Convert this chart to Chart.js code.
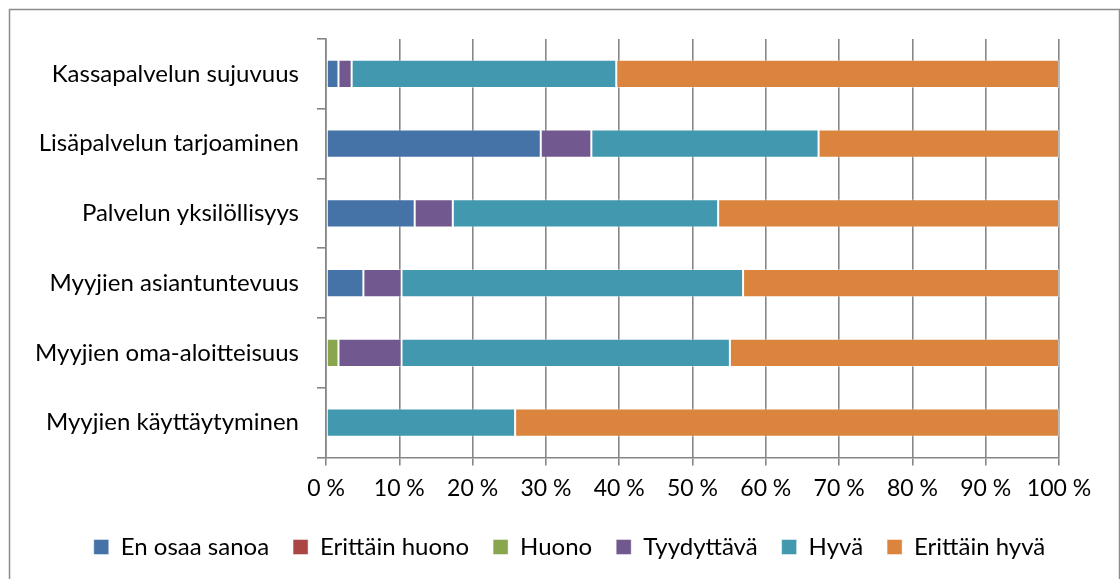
<!DOCTYPE html>
<html>
<head>
<meta charset="utf-8">
<script src="https://cdn.jsdelivr.net/npm/chart.js@4"></script>
<style>
  html, body { margin: 0; padding: 0; background: #fff; }
  #wrap { position: relative; width: 1120px; height: 579px; }
</style>
</head>
<body>
<div id="wrap"><canvas id="chart" width="1120" height="579"></canvas></div>
<script>
const categories = [
    'Kassapalvelun sujuvuus',
    'Lisäpalvelun tarjoaminen',
    'Palvelun yksilöllisyys',
    'Myyjien asiantuntevuus',
    'Myyjien oma-aloitteisuus',
    'Myyjien käyttäytyminen'
]
const tickLabels = ['0 %', '10 %', '20 %', '30 %', '40 %', '50 %', '60 %', '70 %', '80 %', '90 %', '100 %']

// shares in percent, one value per category (top to bottom)
const enOsaaSanoa   = [1.7, 29.3, 12.1, 5.1, 0, 0]
const erittainHuono = [0, 0, 0, 0, 0, 0]
const huono         = [0, 0, 0, 0, 1.7, 0]
const tyydyttava    = [1.8, 6.9, 5.2, 5.2, 8.6, 0]
const hyva          = [36.1, 31.0, 36.2, 46.6, 44.8, 25.8]
const erittainHyva  = [60.4, 32.8, 46.5, 43.1, 44.9, 74.2]

const seriesNames = ['En osaa sanoa', 'Erittäin huono', 'Huono', 'Tyydyttävä', 'Hyvä', 'Erittäin hyvä']
const seriesValues = [enOsaaSanoa, erittainHuono, huono, tyydyttava, hyva, erittainHyva]
const colors = ['#4572A7', '#AA4643', '#89A54E', '#71588F', '#4198AF', '#DB843D']

const gridColor = '#868686'
const fontFamily = 'Lato, "Liberation Sans", sans-serif'

// frame round the whole chart
const framePlugin = {
    id: 'frame',
    beforeDraw(chart){
        const ctx = chart.ctx
        ctx.save()
        ctx.fillStyle = '#fff'
        ctx.fillRect(0, 0, chart.width, chart.height)
        ctx.strokeStyle = '#8c8c8c'
        ctx.lineWidth = 1.5
        ctx.strokeRect(9.5, 9.5, 1110, 600)
        ctx.restore()
    }
}

// the original legend sits a bit right of the plot's centre
const legendShift = {
    id: 'legendShift',
    afterUpdate(chart){
        chart.legend.left += 40
        chart.legend.right += 40
    }
}

const datasets = seriesNames.map((name, i) => ({
    label: name,
    data: seriesValues[i],
    backgroundColor: colors[i],
    borderColor: 'rgba(255,255,255,0.45)',
    borderWidth: 1,
    borderSkipped: false,
    categoryPercentage: 1.0,
    barPercentage: 0.405,
}))

const ctx = document.getElementById('chart').getContext('2d')
const chart = new Chart(ctx, {
    type: 'bar',
    data: {
        labels: categories,
        datasets: datasets
    },
    plugins: [framePlugin, legendShift],
    options: {
        indexAxis: 'y',
        responsive: false,
        animation: false,
        layout: {
            padding: {top: 39, right: 61, left: 0, bottom: 10}
        },
        plugins: {
            tooltip: {enabled: false},
            legend: {
                display: true,
                position: 'bottom',
                labels: {
                    boxWidth: 15,
                    boxHeight: 15,
                    padding: 24,
                    color: '#000',
                    font: {family: fontFamily, size: 24}
                }
            }
        },
        scales: {
            x: {
                stacked: true,
                min: 0,
                max: 100,
                ticks: {
                    stepSize: 10,
                    padding: 9,
                    color: '#000',
                    font: {family: fontFamily, size: 23},
                    maxRotation: 0,
                    callback: (value, index) => tickLabels[index]
                },
                grid: {
                    color: gridColor,
                    lineWidth: 1.6,
                    tickLength: 8,
                    drawTicks: true
                },
                border: {display: true, color: gridColor, width: 1.6}
            },
            y: {
                stacked: true,
                afterFit(scale){
                    scale.width = 326
                },
                ticks: {
                    padding: 18,
                    color: '#000',
                    font: {family: fontFamily, size: 24}
                },
                grid: {
                    drawOnChartArea: false,
                    drawTicks: true,
                    tickLength: 9,
                    color: gridColor,
                    lineWidth: 1.6
                },
                border: {display: true, color: gridColor, width: 1.6}
            }
        }
    }
})
</script>
</body>
</html>
